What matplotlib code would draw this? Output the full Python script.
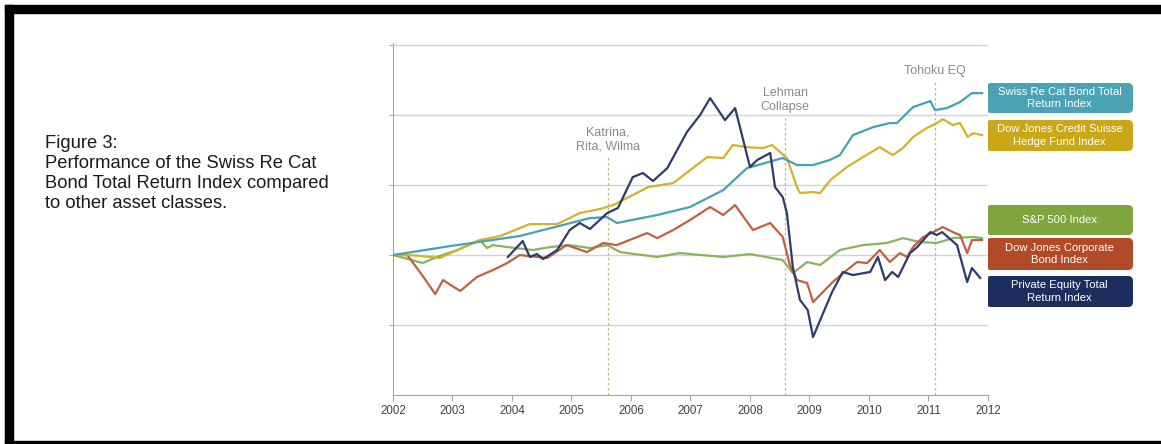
import matplotlib.pyplot as plt
from matplotlib.patches import FancyBboxPatch, Rectangle

plt.rcParams["font.family"] = ["Liberation Sans", "DejaVu Sans"]

# Index levels (start = 100), time in decimal years
cat_t = [2002.00, 2002.96, 2004.13, 2005.31, 2005.60, 2005.76, 2006.44, 2006.99,
         2007.55, 2007.95, 2008.55, 2008.79, 2009.06, 2009.34, 2009.51, 2009.73,
         2010.07, 2010.35, 2010.47, 2010.74, 2011.03, 2011.11, 2011.31, 2011.53,
         2011.73, 2011.90]
cat_v = [100, 106.4, 113.6, 126.4, 127.1, 122.9, 128.6, 134.3, 146.4, 162.1,
         169.3, 164.3, 164.3, 167.9, 171.4, 185.7, 191.4, 194.3, 194.3, 205.7,
         210, 203.6, 205, 209.3, 215.7, 215.7]

hedge_t = [2002.00, 2002.29, 2002.79, 2003.46, 2003.80, 2004.30, 2004.76, 2005.14,
           2005.48, 2005.70, 2006.03, 2006.29, 2006.71, 2007.28, 2007.55, 2007.71,
           2007.95, 2008.22, 2008.37, 2008.62, 2008.79, 2008.84, 2009.06, 2009.18,
           2009.35, 2009.63, 2009.90, 2010.18, 2010.40, 2010.57, 2010.74, 2010.97,
           2011.14, 2011.24, 2011.41, 2011.53, 2011.66, 2011.75, 2011.90]
hedge_v = [100, 100, 97.9, 110.7, 113.6, 122.1, 122.1, 130, 132.9, 135.7, 142.9,
           148.6, 151.4, 170, 169.3, 178.6, 177.1, 176.4, 178.6, 169.3, 148.6,
           144.3, 145, 144.3, 153.6, 162.9, 170, 177.1, 171.4, 176.4, 184.3,
           190.7, 194.3, 197.1, 192.9, 194.3, 184.3, 187.1, 185.7]

spx_t = [2002.00, 2002.50, 2002.74, 2003.08, 2003.46, 2003.58, 2003.68, 2003.92,
         2004.35, 2004.64, 2004.97, 2005.31, 2005.60, 2005.82, 2006.44, 2006.82,
         2007.55, 2008.00, 2008.55, 2008.72, 2008.96, 2009.18, 2009.51, 2009.90,
         2010.30, 2010.57, 2010.86, 2011.14, 2011.41, 2011.75, 2011.90]
spx_v = [100, 94.3, 98.6, 103.6, 110.7, 105, 107.1, 105.7, 103.6, 105.7, 107.1,
         105, 107.1, 102.1, 98.6, 101.4, 98.6, 100.7, 96.4, 87.1, 95, 92.9,
         103.6, 107.1, 108.6, 112.1, 109.3, 108.6, 112.1, 112.9, 112.1]

corp_t = [2002.00, 2002.24, 2002.34, 2002.50, 2002.71, 2002.84, 2003.13, 2003.41,
          2003.68, 2003.92, 2004.13, 2004.59, 2004.92, 2005.26, 2005.53, 2005.76,
          2006.27, 2006.44, 2006.71, 2006.99, 2007.33, 2007.55, 2007.75, 2008.05,
          2008.34, 2008.55, 2008.67, 2008.79, 2008.96, 2009.06, 2009.39, 2009.63,
          2009.80, 2009.97, 2010.18, 2010.35, 2010.52, 2010.64, 2010.74, 2010.91,
          2011.08, 2011.24, 2011.41, 2011.53, 2011.65, 2011.73, 2011.90]
corp_v = [100, 100, 94.3, 85, 72.1, 82.1, 74.3, 84.3, 89.3, 94.3, 100, 97.9,
          107.1, 102.1, 108.6, 107.1, 115.7, 112.1, 117.9, 125, 134.3, 128.6,
          135.7, 117.9, 122.9, 112.9, 92.9, 82.1, 80, 66.4, 80.7, 89.3, 95, 94.3,
          103.6, 95, 101.4, 98.6, 105.7, 112.9, 116.4, 120, 116.4, 114.3, 101.4,
          110.7, 110.7]

pe_t = [2003.93, 2004.18, 2004.30, 2004.42, 2004.52, 2004.76, 2004.97, 2005.14,
        2005.31, 2005.60, 2005.78, 2006.03, 2006.20, 2006.37, 2006.61, 2006.94,
        2007.16, 2007.33, 2007.58, 2007.75, 2008.00, 2008.12, 2008.34, 2008.42,
        2008.55, 2008.62, 2008.72, 2008.84, 2008.97, 2009.06, 2009.23, 2009.38,
        2009.56, 2009.73, 2010.02, 2010.15, 2010.27, 2010.39, 2010.49, 2010.69,
        2010.81, 2011.03, 2011.14, 2011.23, 2011.48, 2011.65, 2011.73, 2011.87]
pe_v = [98.6, 110, 98.6, 100.7, 97.1, 103.6, 117.9, 122.9, 118.6, 130, 133.6,
        155.7, 158.6, 152.9, 162.1, 187.9, 200, 212.1, 196.4, 205, 162.9, 167.9,
        172.9, 148.6, 141.4, 130, 91.4, 67.9, 60.7, 41.4, 58.6, 73.6, 87.9, 85.7,
        87.9, 98.6, 82.1, 87.9, 84.3, 101.4, 105.7, 116.4, 114.3, 116.4, 107.1,
        80.7, 90.7, 83.6]

events = [2005.61, 2008.59, 2011.11]
event_labels = ["Katrina,\nRita, Wilma", "Lehman\nCollapse", "Tohoku EQ"]
event_tops = [170, 198, 224]

years = list(range(2002, 2013))

caption = ["Figure 3:", "Performance of the Swiss Re Cat",
           "Bond Total Return Index compared", "to other asset classes."]

series = [
    ("S&P 500 Index", spx_t, spx_v, "#8db35a", "#7fa63e"),
    ("Dow Jones Corporate\nBond Index", corp_t, corp_v, "#c4603f", "#b24a28"),
    ("Dow Jones Credit Suisse\nHedge Fund Index", hedge_t, hedge_v, "#d4b22c", "#c9a716"),
    ("Swiss Re Cat Bond Total\nReturn Index", cat_t, cat_v, "#45a2b2", "#4aa3b5"),
    ("Private Equity Total\nReturn Index", pe_t, pe_v, "#2e3c6c", "#1c2e5e"),
]

fig = plt.figure(figsize=(11.61, 4.44), dpi=100)

# overlay in pixel coordinates for frame, caption and legend boxes
bg = fig.add_axes([0, 0, 1, 1])
bg.set_xlim(0, 1161)
bg.set_ylim(444, 0)
bg.axis("off")
bg.add_patch(Rectangle((5, 5), 1156, 8, color="black"))
bg.add_patch(Rectangle((5, 5), 8, 439, color="black"))
bg.add_patch(Rectangle((5, 441), 1156, 3, color="black"))

for i, line in enumerate(caption):
    bg.text(45, 143 + 20.3 * i, line, fontsize=13.2, va="center", ha="left",
            color="#1a1a1a")

ax = fig.add_axes([393 / 1161, 1 - 395 / 444, 595 / 1161, 352 / 444])
ax.set_xlim(2002, 2012)
ax.set_ylim(0, 251.5)

for g in [50, 100, 150, 200, 250]:
    ax.axhline(g, color="#c9d3e3", lw=1, zorder=0)

for t, lab, top in zip(events, event_labels, event_tops):
    ax.plot([t, t], [0, top], ls=(0, (2, 2)), color="#b8b88c", lw=0.9, zorder=1)
    ax.text(t, top + 3.5, lab, ha="center", va="bottom", fontsize=9,
            color="#8a8a8a", linespacing=1.2)

for name, t, v, lc, bc in series:
    ax.plot(t, v, color=lc, lw=1.6, zorder=3)

for s in ["top", "right"]:
    ax.spines[s].set_visible(False)
for s in ["left", "bottom"]:
    ax.spines[s].set_color("#a6a6a6")
ax.set_xticks(years)
ax.set_xticklabels([str(y) for y in years])
ax.set_yticks([50, 100, 150, 200, 250])
ax.set_yticklabels([])
ax.tick_params(axis="x", colors="#a6a6a6", labelcolor="#404040", labelsize=8.3,
               length=4, pad=3)
ax.tick_params(axis="y", colors="#a6a6a6", length=3)

# legend boxes on the right
boxes = [(83, 113), (120, 151), (205, 235), (238, 270), (276, 307)]
order = [3, 2, 0, 1, 4]
for (y0, y1), i in zip(boxes, order):
    name, t, v, lc, bc = series[i]
    bg.add_patch(FancyBboxPatch((986, y0), 147, y1 - y0,
                                boxstyle="round,pad=0,rounding_size=5",
                                fc=bc, ec="none"))
    bg.text(1059.5, (y0 + y1) / 2, name, ha="center", va="center",
            fontsize=8.1, color="white", linespacing=1.35)

fig.savefig("out.png", dpi=100)
